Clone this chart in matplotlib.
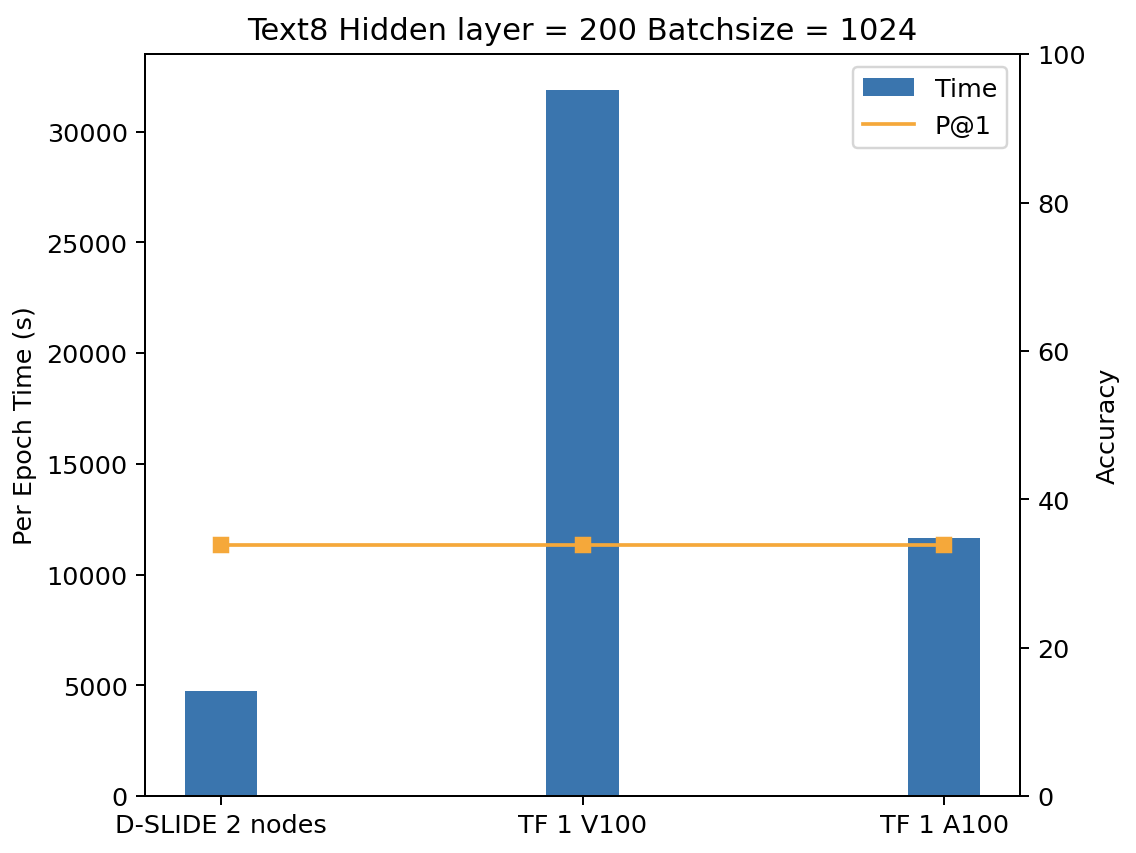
import matplotlib
matplotlib.use('Agg')
import matplotlib.pyplot as plt
from matplotlib.lines import Line2D
import numpy as np

systems = ['D-SLIDE 2 nodes', 'TF 1 V100', 'TF 1 A100']
epoch_time = [4750, 31900, 11650]
p_at_1 = [33.8, 33.8, 33.8]

BAR_COLOR = '#3a75ae'
LINE_COLOR = '#f5a83a'

plt.rcParams['font.size'] = 10.35

fig = plt.figure(figsize=(6.4, 4.81), dpi=177.5)
ax1 = fig.add_axes([0.1276, 0.0667, 0.898 - 0.1276, 0.9356 - 0.0667])
x = np.arange(len(systems))

bars = ax1.bar(x, epoch_time, width=0.2, color=BAR_COLOR, label='Time')
ax1.set_ylabel('Per Epoch Time (s)')
ax1.set_xticks(x)
ax1.set_xticklabels(systems)
ax1.set_title('Text8 Hidden layer = 200 Batchsize = 1024')

ax2 = ax1.twinx()
ax2.plot(x, p_at_1, color=LINE_COLOR, marker='s', label='P@1')
ax2.set_ylim(0, 100)
ax2.set_ylabel('Accuracy')

# legend line without the square marker, like the original
p1_handle = Line2D([], [], color=LINE_COLOR)
ax2.legend([bars, p1_handle], ['Time', 'P@1'], loc='upper right')

fig.savefig('out.png', dpi=177.5)
